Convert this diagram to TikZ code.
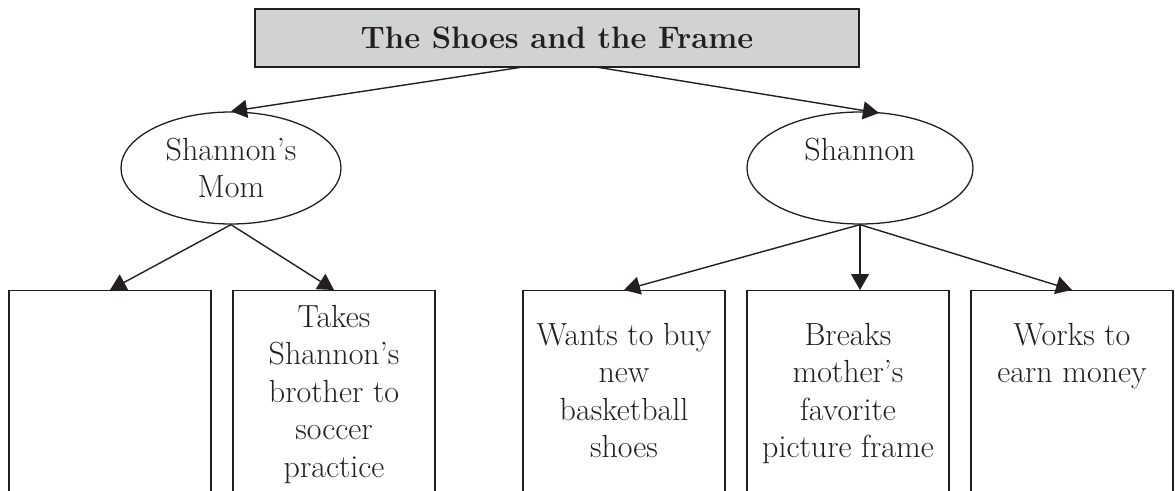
\documentclass[tikz,border=0pt]{standalone}
\usepackage{fontspec}
\usetikzlibrary{shapes.geometric,arrows.meta}
\definecolor{titlegray}{HTML}{D1D2D4}
\definecolor{ink}{HTML}{231F20}
\tikzset{
  every node/.style={font=\fontsize{32}{37.5}\selectfont, text=ink},
  titlebox/.style={draw=ink, line width=1.6pt, fill=titlegray, rectangle, minimum width=604pt, minimum height=58pt, inner sep=0pt, font=\fontsize{31}{37.5}\selectfont\bfseries},
  oval/.style={draw=ink, line width=1.3pt, ellipse, inner sep=0pt, minimum height=112pt, align=center},
  bigbox/.style={draw=ink, line width=1.3pt, rectangle, minimum width=202pt, minimum height=260pt, anchor=north, inner sep=0pt},
  boxtext/.style={align=center, anchor=base, inner sep=0pt},
  arr/.style={draw=ink, line width=1.4pt, -{Triangle[length=16pt,width=18pt]}}
}
\begin{document}
\begin{tikzpicture}[x=1pt,y=-1pt]
\useasboundingbox (0,0) rectangle (1175,490);
\clip (0,0) rectangle (1175,490);
\node[titlebox] (title) at (557,38) {The Shoes and the Frame};
\node[oval, minimum width=220pt] (mom) at (231,168) {Shannon’s\\Mom};
\node[oval, minimum width=226pt] (sh) at (860,168) {Shannon\\\mbox{}};
\node[bigbox] (b1) at (110,290) {};
\node[bigbox] (b2) at (334,290) {};
\node[bigbox] (b3) at (624,290) {};
\node[bigbox] (b4) at (848,290) {};
\node[bigbox] (b5) at (1072,290) {};
\node[boxtext] (t2) at (334,477) {Takes\\Shannon’s\\brother to\\soccer\\practice};
\node[boxtext] (t3) at (624,457.5) {Wants to buy\\new\\basketball\\shoes};
\node[boxtext] (t4) at (848,457.5) {Breaks\\mother’s\\favorite\\picture frame};
\node[boxtext] (t5) at (1072,382.5) {Works to\\earn money};
\coordinate (tl) at (523,67);
\coordinate (tr) at (596,67);
\coordinate (shtop) at (879,113);
\draw[arr] (tl) -- (mom.north);
\draw[arr] (tr) -- (shtop);
\draw[arr] (mom.south) -- (b1.north);
\draw[arr] (mom.south) -- (b2.north);
\draw[arr] (sh.south) -- (b3.north);
\draw[arr] (sh.south) -- (b4.north -| sh.south);
\draw[arr] (sh.south) -- (b5.north);
\end{tikzpicture}
\end{document}
